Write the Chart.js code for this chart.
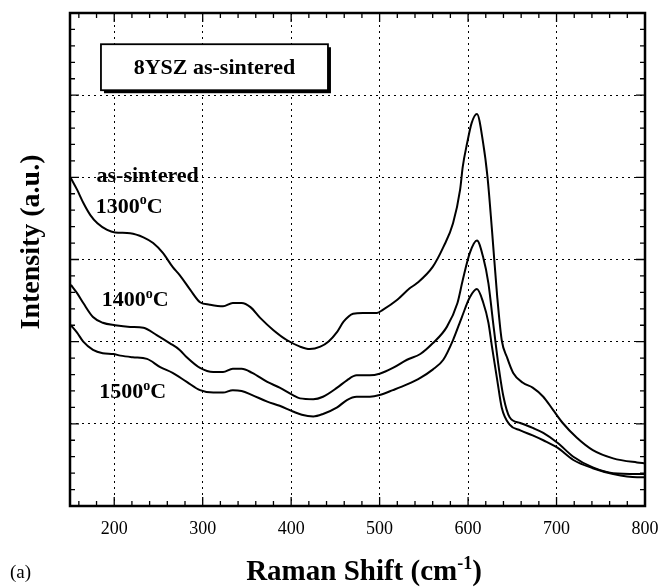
<!DOCTYPE html>
<html><head><meta charset="utf-8">
<script src="https://cdn.jsdelivr.net/npm/chart.js@4.4.0/dist/chart.umd.min.js"></script>
<style>html,body{margin:0;padding:0;background:#fff;}#wrap{width:665px;height:587px;}</style>
</head><body><div id="wrap"><canvas id="c" width="665" height="587"></canvas></div>
<script>
// ---- data ----
const x1300 = [151,158,165,173,181,192,201,218,233,244,255,266,274,286,297,308,323,334,344,354,365,380,395,410,421,433,442,452,459,470,481,497,504,520,534,542,560,572,583,591,594,599,604,610,617,622,627,633,638,644,651,662,673,685,696,707,723,741,764,791,800];
const y1300 = [3.99,3.85,3.69,3.54,3.44,3.36,3.33,3.32,3.27,3.20,3.08,2.91,2.81,2.63,2.48,2.45,2.43,2.47,2.47,2.42,2.29,2.14,2.02,1.94,1.91,1.94,2.00,2.12,2.24,2.34,2.35,2.35,2.39,2.51,2.65,2.71,2.91,3.15,3.44,3.85,4.13,4.42,4.66,4.77,4.42,4.00,3.36,2.54,2.02,1.81,1.62,1.50,1.44,1.33,1.17,1.01,0.83,0.68,0.58,0.53,0.52];
const x1400 = [151,158,165,176,187,201,218,233,248,263,274,282,297,312,323,334,344,356,373,387,402,410,425,436,452,463,474,489,500,515,531,546,560,576,588,594,602,610,617,623,628,634,640,647,659,673,685,701,719,741,764,791,800];
const y1400 = [2.69,2.59,2.47,2.30,2.23,2.20,2.18,2.17,2.08,1.98,1.90,1.81,1.68,1.63,1.63,1.67,1.67,1.62,1.51,1.44,1.35,1.31,1.30,1.33,1.44,1.53,1.59,1.59,1.61,1.68,1.78,1.85,1.98,2.18,2.47,2.75,3.08,3.23,3.03,2.71,2.26,1.74,1.33,1.08,1.01,0.95,0.89,0.77,0.60,0.47,0.40,0.39,0.39];
const x1500 = [151,158,165,176,187,199,207,221,237,252,266,282,297,312,323,334,344,356,373,387,402,412,425,436,452,463,474,489,500,515,531,546,560,572,583,593,602,610,617,623,627,633,638,647,659,673,685,701,719,741,764,791,800];
const y1500 = [2.20,2.11,2.00,1.90,1.86,1.85,1.83,1.81,1.79,1.69,1.62,1.51,1.41,1.38,1.38,1.41,1.40,1.35,1.27,1.22,1.15,1.11,1.09,1.12,1.20,1.29,1.33,1.33,1.35,1.41,1.48,1.56,1.66,1.78,2.02,2.30,2.54,2.64,2.48,2.23,1.94,1.53,1.20,0.99,0.92,0.86,0.80,0.71,0.56,0.46,0.39,0.35,0.35];
const xMajorTicks = [200,300,400,500,600,700,800];
const xGridLines = [200,300,400,500,600,700];
const yGridLines = [1,2,3,4,5];
const xTitleMain = 'Raman Shift (cm';
const xTitleSup = '-1';
const yTitle = 'Intensity (a.u.)';
const boxTitle = '8YSZ as-sintered';
const groupLabel = 'as-sintered';
const seriesNames = ['1300', '1400', '1500'];
const panelLabel = '(a)';

const toPts = (xs, ys) => xs.map((x, i) => ({x, y: ys[i]}));
const ds = (xs, ys, name) => ({
  label: name + '°C', data: toPts(xs, ys), showLine: true, borderColor: '#000',
  borderWidth: 2, pointRadius: 0, cubicInterpolationMode: 'monotone', fill: false
});

const SERIF = '"Liberation Serif", "Times New Roman", serif';

function supText(ctx, parts, x, y, size) {
  let cx = x;
  for (const [t, sup] of parts) {
    ctx.font = (sup ? 'bold ' + Math.round(size * 0.62) : 'bold ' + size) + 'px ' + SERIF;
    ctx.fillText(t, cx, sup ? y - size * 0.38 : y);
    cx += ctx.measureText(t).width;
  }
  return cx - x;
}
function measureSup(ctx, parts, size) {
  let w = 0;
  for (const [t, sup] of parts) {
    ctx.font = (sup ? 'bold ' + Math.round(size * 0.62) : 'bold ' + size) + 'px ' + SERIF;
    w += ctx.measureText(t).width;
  }
  return w;
}

const deco = {
  id: 'deco',
  afterDraw(chart) {
    const ctx = chart.ctx, a = chart.chartArea;
    const xs = chart.scales.x, ys = chart.scales.y;
    ctx.save();
    ctx.strokeStyle = '#000'; ctx.fillStyle = '#000';
    // ticks (inward) on all four sides
    ctx.lineWidth = 1.3;
    ctx.beginPath();
    for (let v = 160; v < 800; v += 20) {
      const p = xs.getPixelForValue(v);
      const len = (v % 100 === 0) ? 9 : 5;
      ctx.moveTo(p, a.bottom); ctx.lineTo(p, a.bottom - len);
      ctx.moveTo(p, a.top); ctx.lineTo(p, a.top + len);
    }
    for (let k = 1; k < 30; k++) {
      const v = k * 0.2;
      const p = ys.getPixelForValue(v);
      const len = (k % 5 === 0) ? 9 : 5;
      ctx.moveTo(a.left, p); ctx.lineTo(a.left + len, p);
      ctx.moveTo(a.right, p); ctx.lineTo(a.right - len, p);
    }
    ctx.stroke();
    // frame
    ctx.lineWidth = 2.5;
    ctx.strokeRect(a.left, a.top, a.right - a.left, a.bottom - a.top);

    // x tick labels
    ctx.font = '18px ' + SERIF;
    ctx.textAlign = 'center'; ctx.textBaseline = 'middle';
    for (const v of xMajorTicks) ctx.fillText(String(v), xs.getPixelForValue(v), a.bottom + 23);

    // x title
    ctx.textAlign = 'left'; ctx.textBaseline = 'alphabetic';
    const tParts = [[xTitleMain, false], [xTitleSup, true], [')', false]];
    const tw = measureSup(ctx, tParts, 29);
    supText(ctx, tParts, 364 - tw / 2, 580, 29);

    // y title
    ctx.save();
    ctx.translate(32, 242); ctx.rotate(-Math.PI / 2);
    ctx.font = 'bold 28px ' + SERIF; ctx.textAlign = 'center'; ctx.textBaseline = 'middle';
    ctx.fillText(yTitle, 0, 0);
    ctx.restore();

    // panel label
    ctx.font = '19px ' + SERIF; ctx.textAlign = 'left'; ctx.textBaseline = 'alphabetic';
    ctx.fillText(panelLabel, 10, 578);

    // title box
    const bx = xs.getPixelForValue(185), by = ys.getPixelForValue(5.62);
    const bw = 227, bh = 46;
    ctx.fillRect(bx + 3, by + 3, bw, bh);
    ctx.fillStyle = '#fff'; ctx.fillRect(bx, by, bw, bh);
    ctx.fillStyle = '#000'; ctx.lineWidth = 1.8; ctx.strokeRect(bx, by, bw, bh);
    ctx.font = 'bold 22px ' + SERIF; ctx.textAlign = 'center'; ctx.textBaseline = 'middle';
    ctx.fillText(boxTitle, bx + bw / 2, by + bh / 2 + 1);

    // series labels
    ctx.textAlign = 'left'; ctx.textBaseline = 'alphabetic';
    ctx.font = 'bold 22px ' + SERIF;
    ctx.fillText(groupLabel, xs.getPixelForValue(180), ys.getPixelForValue(3.94));
    const pos = [[179, 3.57], [186, 2.43], [183, 1.31]];
    seriesNames.forEach((n, i) => {
      supText(ctx, [[n, false], ['o', true], ['C', false]], xs.getPixelForValue(pos[i][0]), ys.getPixelForValue(pos[i][1]), 22);
    });
    ctx.restore();
  }
};

new Chart(document.getElementById('c'), {
  type: 'scatter',
  data: { datasets: [ds(x1300, y1300, seriesNames[0]), ds(x1400, y1400, seriesNames[1]), ds(x1500, y1500, seriesNames[2])] },
  options: {
    responsive: false, animation: false, devicePixelRatio: 1,
    layout: { padding: { left: 70, right: 20, top: 13, bottom: 81 } },
    plugins: { legend: { display: false }, tooltip: { enabled: false } },
    scales: {
      x: {
        type: 'linear', min: 150, max: 800,
        afterBuildTicks: s => { s.ticks = xGridLines.map(v => ({ value: v })); },
        ticks: { display: false },
        grid: { color: '#000', lineWidth: 1, drawTicks: false },
        border: { display: false, dash: [2, 4] }
      },
      y: {
        type: 'linear', min: 0, max: 6,
        afterBuildTicks: s => { s.ticks = yGridLines.map(v => ({ value: v })); },
        ticks: { display: false },
        grid: { color: '#000', lineWidth: 1, drawTicks: false },
        border: { display: false, dash: [2, 4] }
      }
    }
  },
  plugins: [deco]
});
</script>
</body></html>
